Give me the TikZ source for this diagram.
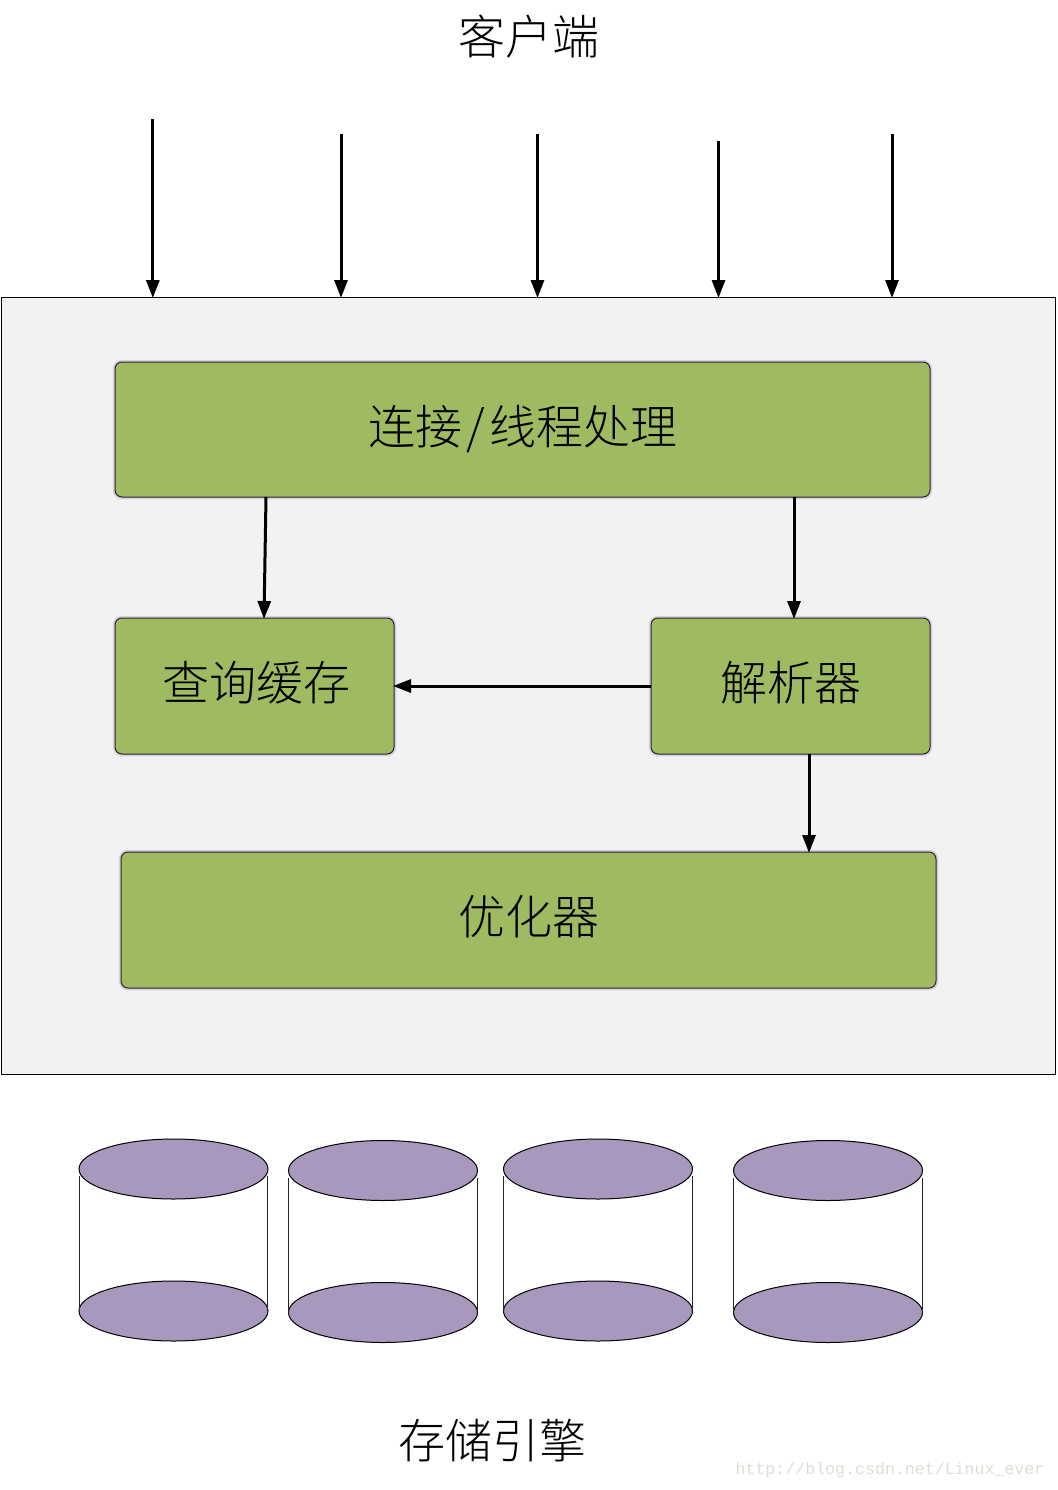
\documentclass[tikz,border=0pt]{standalone}
\usepackage{fontspec}
\newfontfamily\cjk{Noto Sans CJK SC Light}
\newfontfamily\wmfont{Liberation Mono}
\usetikzlibrary{arrows.meta}
\definecolor{frameFill}{HTML}{F2F2F2}
\definecolor{boxFill}{HTML}{9EBB62}
\definecolor{glow}{HTML}{D6D0E2}
\definecolor{diskFill}{HTML}{A998BD}
\definecolor{wmark}{HTML}{DEDED6}
\tikzset{
  x=1pt,y=-1pt,
  framebox/.style={draw=black,line width=1pt,fill=frameFill,inner sep=0,outer sep=0,minimum width=1054.5pt,minimum height=777.5pt},
  greenbox/.style={draw=black!85,line width=1pt,fill=boxFill,rounded corners=7pt,inner sep=0,outer sep=0,
    preaction={draw=glow,line width=4.5pt},font=\cjk\fontsize{47}{47}\selectfont},
  title/.style={inner sep=0,font=\cjk\fontsize{47}{47}\selectfont},
  arrowline/.style={draw=black,line width=3pt,-{Triangle[length=18pt,width=13pt]},shorten >=-1pt},
  diskside/.style={draw=black!85,line width=1pt},
}
\newcommand{\diskat}[2]{% cx, cy top
  \path[draw=black,line width=1pt,fill=diskFill] (#1,#2) ellipse [x radius=94.5pt,y radius=30pt];
  \path[draw=black,line width=1pt,fill=diskFill] (#1,#2+142) ellipse [x radius=94.5pt,y radius=30pt];
  \draw[diskside] (#1-94.5,#2+7) -- (#1-94.5,#2+142);
  \draw[diskside] (#1+94,#2+7) -- (#1+94,#2+142);
}
\begin{document}
\begin{tikzpicture}
\useasboundingbox (0,0) rectangle (1057,1490);
\node[title] (client) at (529,37) {客户端};
\node[framebox,anchor=north west] (server) at (1,297) {};
\node[greenbox,anchor=north west,minimum width=815pt,minimum height=135pt] (conn) at (115,362) {};
\node[title] (connT) at (523,429) {连接\hspace{4pt}/\hspace{4pt}线程处理};
\node[greenbox,anchor=north west,minimum width=279pt,minimum height=136pt] (cache) at (115,618) {};
\node[title] (cacheT) at (256,683) {查询缓存};
\node[greenbox,anchor=north west,minimum width=279pt,minimum height=136pt] (parser) at (651,618) {};
\node[title] (parserT) at (791,683) {解析器};
\node[greenbox,anchor=north west,minimum width=815pt,minimum height=136pt] (opt) at (121,852) {};
\node[title] (optT) at (529,917) {优化器};
\coordinate (c1) at (152.8,119);
\coordinate (c2) at (341,134);
\coordinate (c3) at (537.5,134);
\coordinate (c4) at (718.5,141);
\coordinate (c5) at (892,134);
\foreach \c in {c1,c2,c3,c4,c5}{
  \draw[arrowline] (\c) -- (\c |- server.north);
}
\coordinate (connL) at (266,497);
\coordinate (cacheIn) at (264,618);
\draw[arrowline] (connL) -- (cacheIn);
\coordinate (connR) at (794,497);
\draw[arrowline] (connR) -- (connR |- parser.north);
\draw[arrowline] (parser.west) -- (cache.east);
\coordinate (parserB) at (809,754);
\draw[arrowline] (parserB) -- (parserB |- opt.north);
\diskat{173.5}{1169}
\diskat{383}{1170.5}
\diskat{598}{1169}
\diskat{828}{1170.5}
\node[title] (engine) at (492,1441) {存储引擎};
\node[inner sep=0,text=wmark,font=\wmfont\fontsize{16.6}{17}\selectfont] (wm) at (890,1470.5) {http://blog.csdn.net/Linux\_ever};
\end{tikzpicture}
\end{document}
